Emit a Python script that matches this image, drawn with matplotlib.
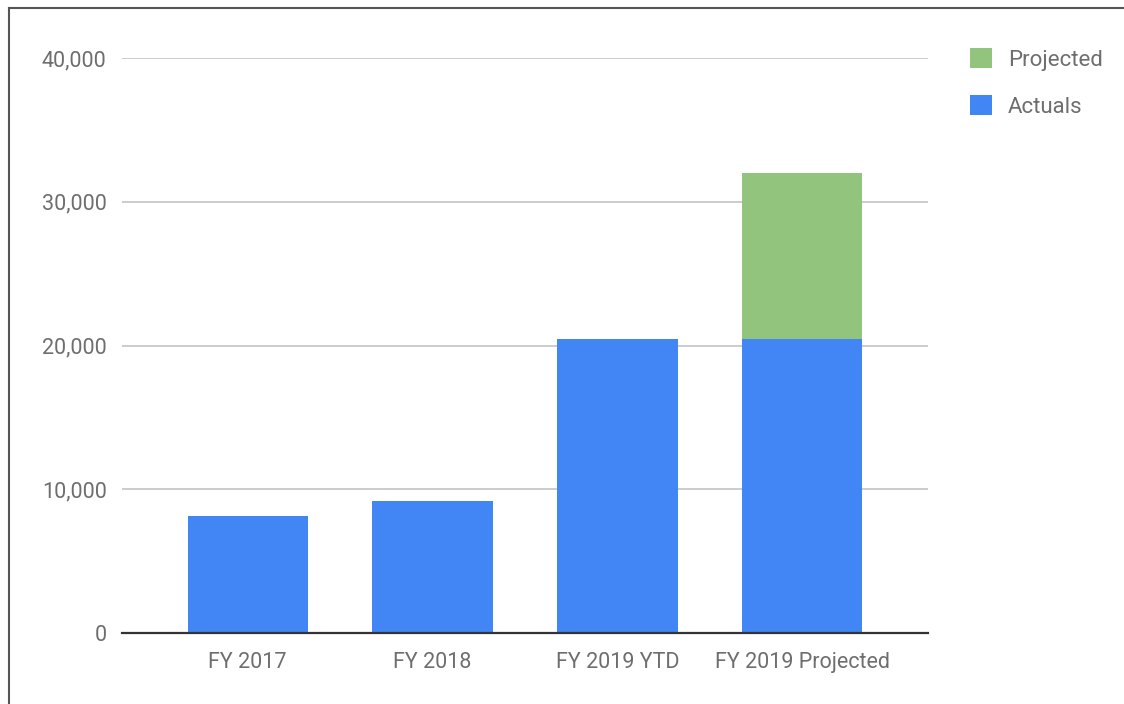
import matplotlib.pyplot as plt
from matplotlib.lines import Line2D
from matplotlib.ticker import FuncFormatter

plt.rcParams['font.family'] = ['Roboto', 'DejaVu Sans']

categories = ['FY 2017', 'FY 2018', 'FY 2019 YTD', 'FY 2019 Projected']
actuals = [8150, 9200, 20450, 20450]
projected = [0, 0, 0, 11550]

BLUE = '#4285F4'
GREEN = '#93C47D'
TEXT = '#6e6e6e'

fig = plt.figure(figsize=(11.24, 7.04), dpi=100)
ax = fig.add_axes([122 / 1124, 1 - 633 / 704, (928 - 122) / 1124, (633 - 58) / 704])

x = range(len(categories))
ax.bar(x, actuals, width=0.65, color=BLUE, label='Actuals', zorder=3)
ax.bar(x, projected, width=0.65, bottom=actuals, color=GREEN, label='Projected', zorder=3)

ax.set_xlim(-0.68, 3.68)
ax.set_ylim(0, 40000)
ax.set_yticks([0, 10000, 20000, 30000, 40000])
ax.yaxis.set_major_formatter(FuncFormatter(lambda v, p: f'{int(v):,}'))
ax.set_xticks(list(x))
ax.set_xticklabels(categories)

ax.grid(axis='y', color='#cccccc', linewidth=1.4, zorder=0)
for s in ['top', 'right', 'left']:
    ax.spines[s].set_visible(False)
ax.spines['bottom'].set_color('#333333')
ax.spines['bottom'].set_linewidth(1.6)
ax.spines['bottom'].set_zorder(4)
ax.tick_params(axis='both', length=0, labelsize=15.5, labelcolor=TEXT)
ax.tick_params(axis='y', pad=11)
ax.tick_params(axis='x', pad=14)

handles, labels = ax.get_legend_handles_labels()
leg = fig.legend(handles[::-1], labels[::-1], loc='upper left',
                 bbox_to_anchor=(950 / 1124, 1 - 28 / 704), frameon=False,
                 fontsize=16, labelcolor=TEXT, handlelength=1.0, handleheight=1.0,
                 handletextpad=0.7, labelspacing=1.1)

# frame lines on top and left edge of the screenshot
fig.add_artist(Line2D([9 / 1124, 9 / 1124], [0, 1 - 8 / 704], transform=fig.transFigure,
                      color='#555555', linewidth=1.5))
fig.add_artist(Line2D([9 / 1124, 1], [1 - 8 / 704, 1 - 8 / 704], transform=fig.transFigure,
                      color='#555555', linewidth=1.5))

fig.savefig('out.png', dpi=100)
